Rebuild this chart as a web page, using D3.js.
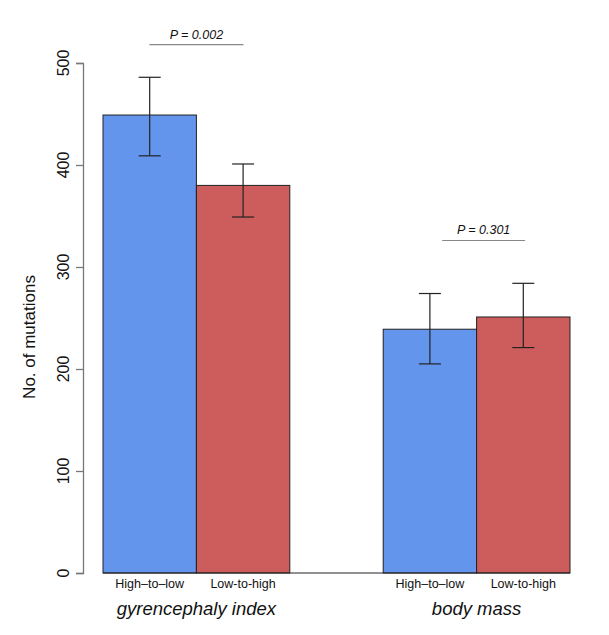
<!DOCTYPE html>
<html>
<meta charset="utf-8">
<head>
<script src="https://d3js.org/d3.v7.min.js"></script>
<style>
  body { margin: 0; background: #fff; }
  text { font-family: "Liberation Sans", Arial, sans-serif; }
</style>
</head>
<body>
<div id="chart"></div>
<script>
// data
var groups = ["gyrencephaly index", "body mass"];
var directions = ["High\u2013to\u2013low", "Low-to-high"];
var means = [[449, 380], [239, 251]];
var lower = [[409, 349], [205, 221]];
var upper = [[486, 401], [274, 284]];
var pLabels = ["P = 0.002", "P = 0.301"];
var pHeights = [518, 326];
var yTicks = [0, 100, 200, 300, 400, 500];
var colors = ["#6495ED", "#CD5C5C"];

var width = 609, height = 635;

var svg = d3.select("#chart").append("svg")
    .attr("width", width)
    .attr("height", height);

var y = d3.scaleLinear().domain([0, 500]).range([573, 63]);

// two bars per group with an empty slot between groups
var x = d3.scaleBand()
    .domain(["g0b0", "g0b1", "gap", "g1b0", "g1b1"])
    .range([103, 570])
    .padding(0);

function key(g, b) { return "g" + g + "b" + b; }

var bars = [];
groups.forEach(function(g, gi) {
  directions.forEach(function(d, di) {
    bars.push({g: gi, d: di, v: means[gi][di], lo: lower[gi][di], hi: upper[gi][di]});
  });
});

svg.append("g").selectAll("rect")
  .data(bars)
  .enter().append("rect")
    .attr("x", function(d) { return x(key(d.g, d.d)); })
    .attr("y", function(d) { return y(d.v); })
    .attr("width", x.bandwidth())
    .attr("height", function(d) { return y(0) - y(d.v); })
    .attr("fill", function(d) { return colors[d.d]; })
    .attr("stroke", "#222")
    .attr("stroke-width", 1);

// baseline
svg.append("line")
  .attr("x1", x("g0b0")).attr("x2", x("g1b1") + x.bandwidth())
  .attr("y1", y(0)).attr("y2", y(0))
  .attr("stroke", "#222");

// error bars
var eb = svg.append("g").attr("stroke", "#222").attr("stroke-width", 1.2);
bars.forEach(function(d) {
  var cx = x(key(d.g, d.d)) + x.bandwidth() / 2;
  eb.append("line").attr("x1", cx).attr("x2", cx).attr("y1", y(d.lo)).attr("y2", y(d.hi));
  eb.append("line").attr("x1", cx - 11).attr("x2", cx + 11).attr("y1", y(d.lo)).attr("y2", y(d.lo));
  eb.append("line").attr("x1", cx - 11).attr("x2", cx + 11).attr("y1", y(d.hi)).attr("y2", y(d.hi));
});

// y axis
var axis = svg.append("g")
  .attr("transform", "translate(83,0)")
  .call(d3.axisLeft(y).tickValues(yTicks).tickSize(7).tickFormat(""));
axis.select(".domain").attr("stroke", "#777").attr("stroke-width", 1.3);
axis.selectAll(".tick line").attr("stroke", "#777").attr("stroke-width", 1.3);

svg.append("g").selectAll("text")
  .data(yTicks)
  .enter().append("text")
    .attr("transform", function(d) { return "translate(69," + y(d) + ") rotate(-90)"; })
    .attr("text-anchor", "middle")
    .attr("font-size", 16)
    .attr("fill", "#111")
    .text(function(d) { return d; });

svg.append("text")
  .attr("transform", "translate(35,337) rotate(-90)")
  .attr("text-anchor", "middle")
  .attr("font-size", 17)
  .attr("fill", "#111")
  .text("No. of mutations");

// category labels
svg.append("g").selectAll("text")
  .data(bars)
  .enter().append("text")
    .attr("x", function(d) { return x(key(d.g, d.d)) + x.bandwidth() / 2; })
    .attr("y", 588)
    .attr("text-anchor", "middle")
    .attr("font-size", 12.5)
    .attr("fill", "#111")
    .text(function(d) { return directions[d.d]; });

// group labels
svg.append("g").selectAll("text")
  .data(groups)
  .enter().append("text")
    .attr("x", function(d, i) { return x(key(i, 1)); })
    .attr("y", 615)
    .attr("text-anchor", "middle")
    .attr("font-size", 18.5)
    .attr("font-style", "italic")
    .attr("fill", "#111")
    .text(function(d) { return d; });

// p-value annotations (second one sits a little right of the group centre, shorter line)
var pShift = [0, 7];
var pHalf = [47, 41.5];
groups.forEach(function(g, gi) {
  var cx = x(key(gi, 1)) + pShift[gi];
  var ly = y(pHeights[gi]);
  svg.append("line")
    .attr("x1", cx - pHalf[gi]).attr("x2", cx + pHalf[gi])
    .attr("y1", ly).attr("y2", ly)
    .attr("stroke", "#888").attr("stroke-width", 1.2);
  svg.append("text")
    .attr("x", cx)
    .attr("y", ly - 6)
    .attr("text-anchor", "middle")
    .attr("font-size", 12.5)
    .attr("font-style", "italic")
    .attr("fill", "#111")
    .text(pLabels[gi]);
});
</script>
</body>
</html>
